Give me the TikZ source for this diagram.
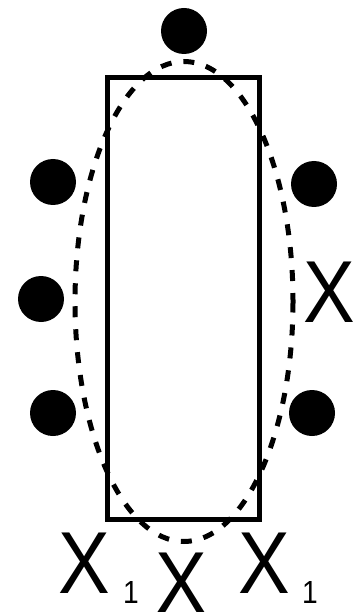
\documentclass[tikz,border=0pt]{standalone}
\usepackage{fontspec}
\setmainfont{Liberation Sans}
\usepackage{tikz}
\usetikzlibrary{positioning}

\begin{document}
\begin{tikzpicture}[x=1pt,y=-1pt,
          dot/.style={circle,fill=black,inner sep=0pt,minimum size=46pt},
          lbl/.style={inner sep=0pt,anchor=base west,xscale=0.88,
                      font=\fontsize{88}{88}\selectfont},
          sub/.style={inner sep=0pt,anchor=base west,xscale=0.88,
                      font=\fontsize{32}{32}\selectfont}]
        \useasboundingbox (0,0) rectangle (360,612);
        % box and dashed ellipse
        \draw[line width=5pt] (107.5,78) rectangle (259,519);
        \draw[line width=5pt,dash pattern=on 11pt off 12pt] (184,301.5) ellipse [x radius=109, y radius=240];
        % dots
        \node[dot] (top) at (184,31) {};
        \node[dot] (l1) at (53,182) {};
        \node[dot] (l2) at (41,299) {};
        \node[dot] (l3) at (53,413) {};
        \node[dot] (r1) at (314,184) {};
        \node[dot] (r3) at (312,413) {};
        % labels
        \node[lbl] (xr) at (303,322) {X};
        \node[lbl] (xl) at (58,593) {X};
        \node[sub] (sl) at (123,603) {1};
        \node[lbl] (xm) at (155,613) {X};
        \node[lbl] (xb) at (238,593) {X};
        \node[sub] (sb) at (302,603) {1};
\end{tikzpicture}
\end{document}
